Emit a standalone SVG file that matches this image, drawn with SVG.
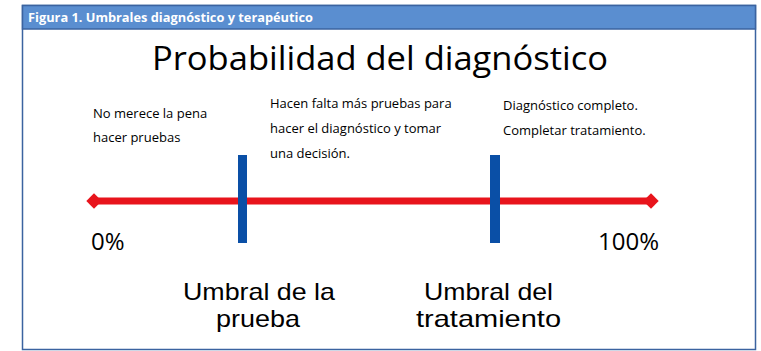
<svg xmlns="http://www.w3.org/2000/svg" width="761" height="351" viewBox="0 0 761 351">
<style>
.t{font-family:"Open Sans","Noto Sans","Liberation Sans",sans-serif;fill:#000}
.s{font-size:13px}
.b{font-family:"Liberation Sans",Arial,sans-serif;font-size:24px;fill:#000}
.h{font-family:"Open Sans","Noto Sans","Liberation Sans",sans-serif;font-weight:bold;font-size:12px;fill:#fff}
.bar{fill:#0a4fa6}
</style>
<defs>
<marker id="dia" viewBox="0 0 10 10" refX="5" refY="5" markerWidth="2.2" markerHeight="2.2" orient="auto">
<path d="M0,5 L5,0 L10,5 L5,10 Z" fill="#e8141c"/>
</marker>
</defs>
<rect x="0" y="0" width="761" height="351" fill="#fff"/>
<g id="frame">
<rect x="22.5" y="5.5" width="733" height="344" fill="#fff" stroke="#3b63a0" stroke-width="1.5"/>
<rect x="22.5" y="5.5" width="733" height="23.5" fill="#5a8ed0" stroke="#3b63a0" stroke-width="1.5"/>
<text class="h" x="28" y="22" textLength="285" lengthAdjust="spacingAndGlyphs">Figura 1.  Umbrales diagnóstico y terapéutico</text>
</g>
<g id="title"><text class="t" x="380" y="70" font-size="33" text-anchor="middle" textLength="456" lengthAdjust="spacingAndGlyphs">Probabilidad del diagnóstico</text></g>
<g id="connectors">
<line x1="94" y1="201" x2="651" y2="201" stroke="#e8141c" stroke-width="7" marker-start="url(#dia)" marker-end="url(#dia)"/>
</g>
<g id="umbral-prueba">
<rect class="bar" x="238" y="155" width="9" height="88"/>
<text class="b" x="259" y="300" text-anchor="middle" textLength="152" lengthAdjust="spacingAndGlyphs">Umbral de la</text>
<text class="b" x="258" y="327" text-anchor="middle" textLength="84" lengthAdjust="spacingAndGlyphs">prueba</text>
</g>
<g id="umbral-tratamiento">
<rect class="bar" x="490" y="155" width="10" height="88"/>
<text class="b" x="488.5" y="300" text-anchor="middle" textLength="129" lengthAdjust="spacingAndGlyphs">Umbral del</text>
<text class="b" x="488.5" y="327" text-anchor="middle" textLength="145" lengthAdjust="spacingAndGlyphs">tratamiento</text>
</g>
<g id="zona1">
<text class="t s" x="93" y="118">No merece la pena</text>
<text class="t s" x="93" y="142">hacer pruebas</text>
</g>
<g id="zona2">
<text class="t s" x="270" y="108">Hacen falta más pruebas para</text>
<text class="t s" x="270" y="133">hacer el diagnóstico y tomar</text>
<text class="t s" x="270" y="158">una decisión.</text>
</g>
<g id="zona3">
<text class="t s" x="503" y="110">Diagnóstico completo.</text>
<text class="t s" x="503" y="135">Completar tratamiento.</text>
</g>
<g id="p0"><text class="t" x="91" y="250" font-size="24">0%</text></g>
<g id="p100"><text class="t" x="659" y="250" font-size="24" text-anchor="end">100%</text></g>
</svg>
